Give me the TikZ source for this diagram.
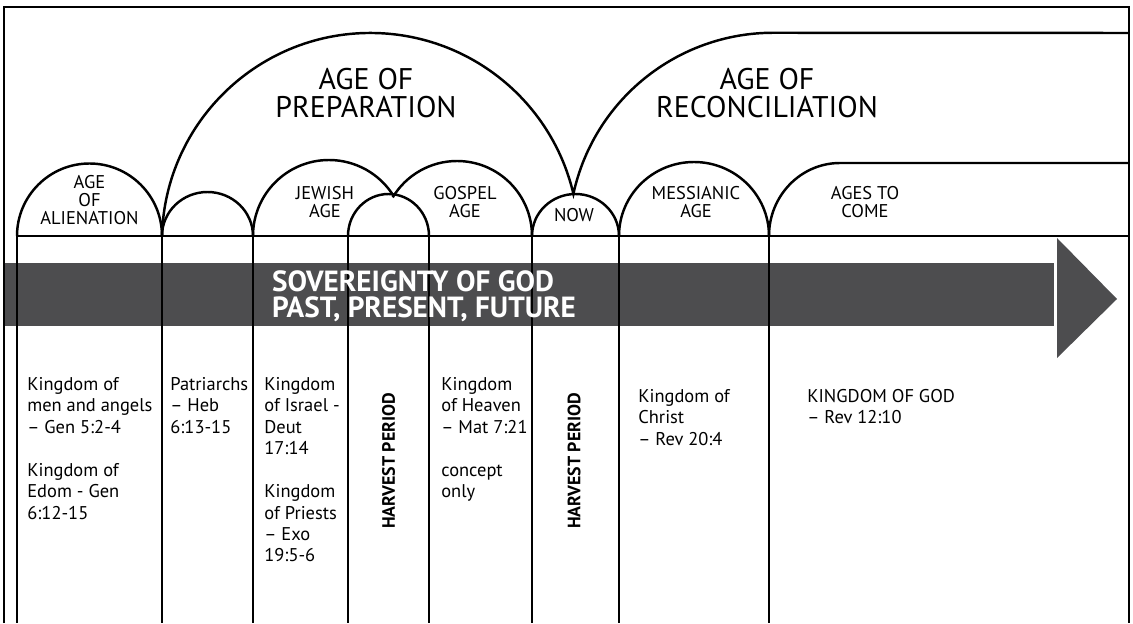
\documentclass[tikz,border=0pt]{standalone}
\usepackage{fontspec}
\setmainfont{PT Sans}
\definecolor{bargray}{RGB}{77,77,79}
\begin{document}
\begin{tikzpicture}[x=0.02cm,y=0.02cm,
    line/.style={line width=1.4pt},
    frame/.style={line width=1.6pt},
    title/.style={align=center,font=\fontsize{17}{16}\selectfont},
    age/.style={align=center,font=\fontsize{10.5}{10.2}\selectfont},
    body/.style={align=left,anchor=north west,inner sep=0pt,font=\fontsize{10.5}{12.2}\selectfont},
    harvest/.style={rotate=90,font=\bfseries\fontsize{10.2}{10}\selectfont}]
  \useasboundingbox (0,0) rectangle (1133,623);

  \fill[bargray] (4,297) rectangle (1054,360);
  \fill[bargray] (1057,385) -- (1117,324) -- (1057,265) -- cycle;

  \draw[frame] (4,0) -- (4,616) -- (1129,616) -- (1129,0);
  \draw[line] (17,387) -- (1129,387);
  \foreach \x in {17,162,253,348,429,532,619,769}
    \draw[line] (\x,387) -- (\x,0);

  \draw[line] (17,387) arc[start angle=180,end angle=0,radius=72.5];
  \draw[line] (162,387) arc[start angle=180,end angle=0,x radius=45.5,y radius=44];
  \draw[line] (348,387) arc[start angle=180,end angle=0,x radius=40.5,y radius=42];
  \draw[line] (532,387) arc[start angle=180,end angle=0,x radius=43.5,y radius=42];
  \draw[line] (619,387) arc[start angle=180,end angle=0,x radius=75,y radius=74];
  \draw[line] (253,387) arc[start angle=180,end angle=31.5,radius=76];
  \draw[line] (532,387) arc[start angle=0,end angle=149,radius=75];
  \draw[line] (162,387) arc[start angle=178.5,end angle=13.2,radius=208.5] coordinate (now)
    arc[start angle=167.7,end angle=90,radius=204.7] -- (1129,590);
  \draw[line] (769,387) arc[start angle=180,end angle=90,x radius=71,y radius=73] -- (1129,460);

  \node[align=left,anchor=west,text=white,font=\bfseries\fontsize{16.6}{15}\selectfont] (sov) at (266,327)
    {SOVEREIGNTY OF GOD\\PAST, PRESENT, FUTURE};

  \node[title] (prep) at (366,530) {AGE OF\\PREPARATION};
  \node[title] (recon) at (767,530) {AGE OF\\RECONCILIATION};
  \node[age] (alien) at (89.5,423) {AGE\\OF\\ALIENATION};
  \node[age] (jewish) at (325,420.5) {JEWISH\\AGE};
  \node[age] (gospel) at (465,420.5) {GOSPEL\\AGE};
  \node[age] (nowlbl) at (574,408) {NOW};
  \node[age] (messiah) at (696,420.5) {MESSIANIC\\AGE};
  \node[age] (tocome) at (865,420.5) {AGES TO\\COME};

  \node[body] (men) at (27,246) {Kingdom of\\men and angels\\– Gen 5:2-4\\[12.2pt]Kingdom of\\Edom - Gen\\6:12-15};
  \node[body] (patr) at (170,246) {Patriarchs\\– Heb\\6:13-15};
  \node[body] (israel) at (264,246) {Kingdom\\of Israel -\\Deut\\17:14\\[12.2pt]Kingdom\\of Priests\\– Exo\\19:5-6};
  \node[harvest] (harv1) at (388.5,162) {HARVEST PERIOD};
  \node[body] (heaven) at (441,246) {Kingdom\\of Heaven\\– Mat 7:21\\[12.2pt]concept\\only};
  \node[harvest] (harv2) at (574,162) {HARVEST PERIOD};
  \node[body] (christ) at (638,234) {Kingdom of\\Christ\\– Rev 20:4};
  \node[body] (god) at (807,234) {KINGDOM OF GOD\\– Rev 12:10};
\end{tikzpicture}
\end{document}
